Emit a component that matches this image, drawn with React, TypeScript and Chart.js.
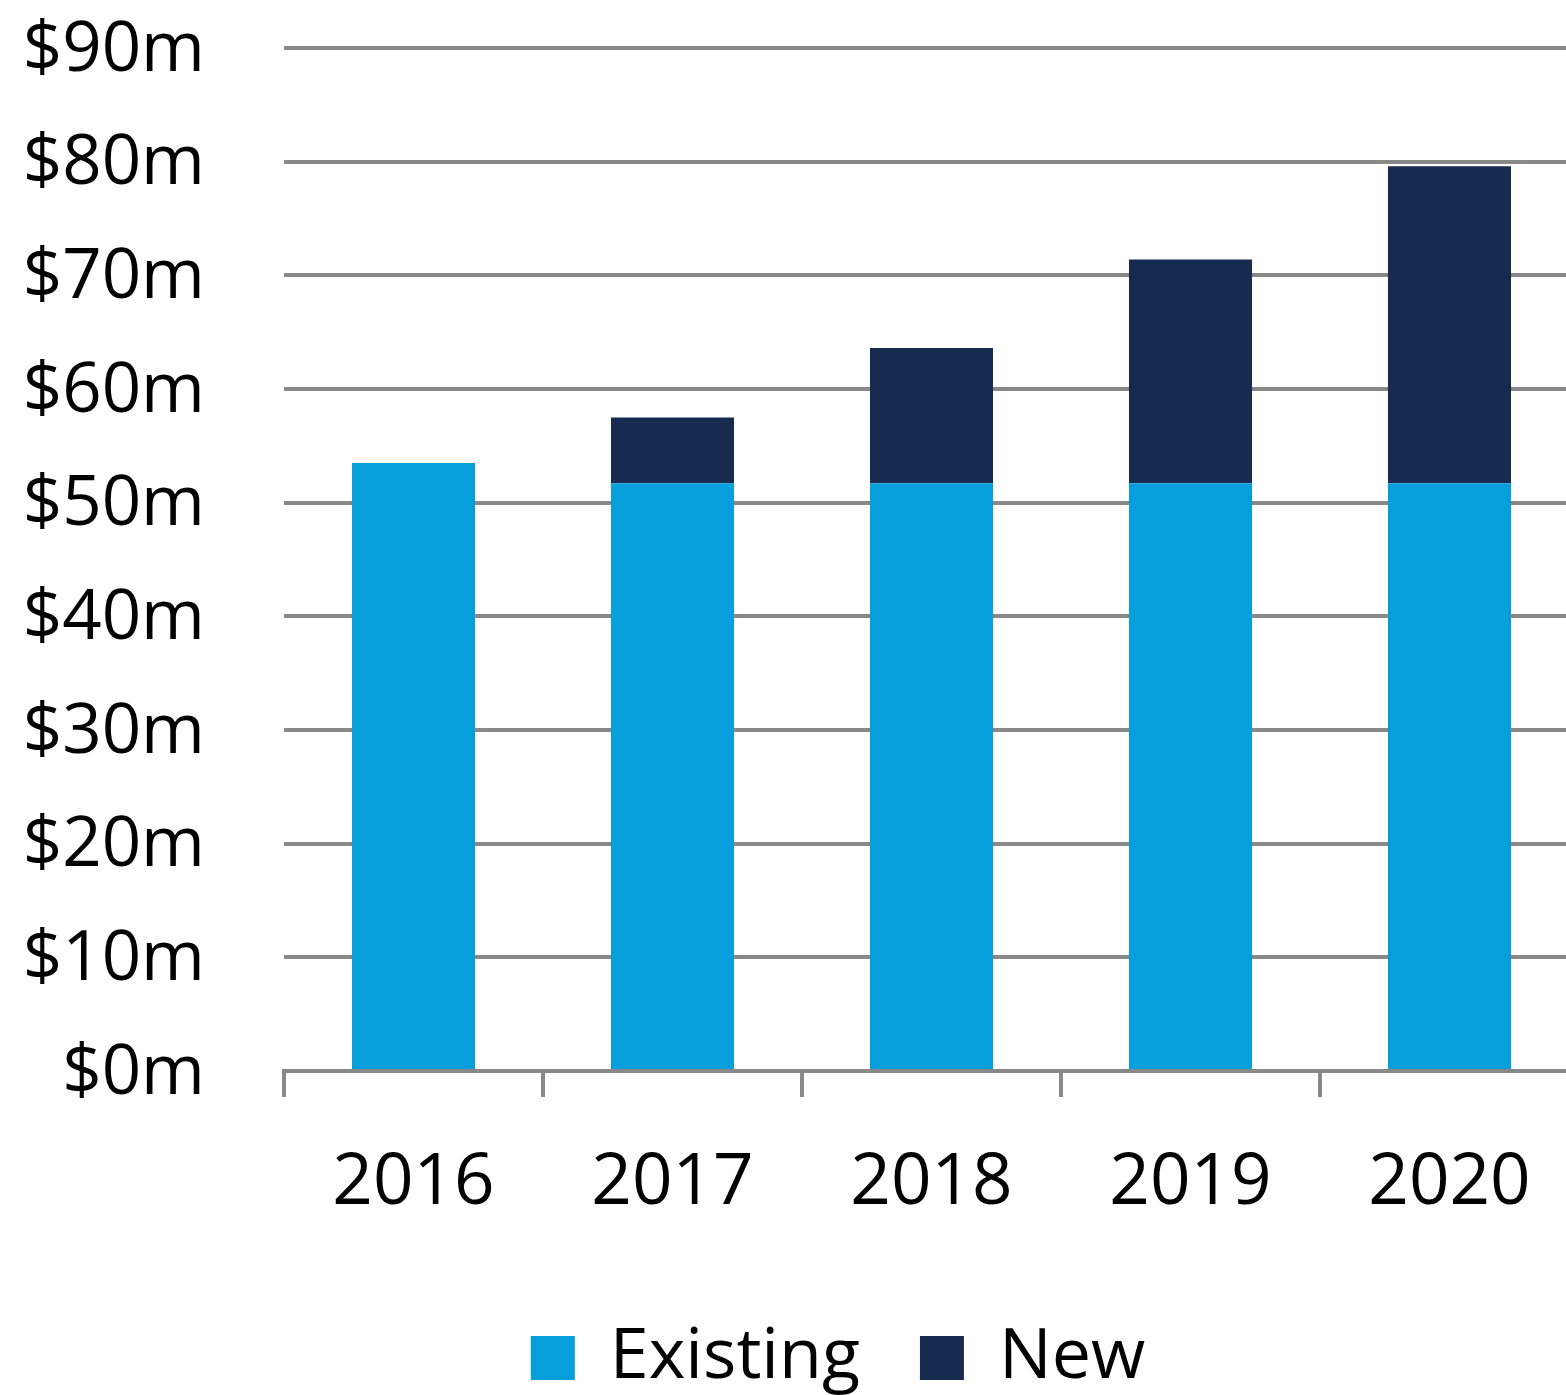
import React, { useEffect, useRef } from "react";
import { Chart, registerables } from "chart.js";

Chart.register(...registerables);

const years = ["2016", "2017", "2018", "2019", "2020"];
const existingValues = [53.5, 51.7, 51.7, 51.7, 51.7];
const newValues = [0, 5.8, 11.9, 19.7, 27.9];
const seriesNames = ["Existing", "New"];
const yMin = 0;
const yMax = 90;
const yStep = 10;

const FONT = "'Open Sans', sans-serif";
const GRID = "#898989";

export default function App() {
  const ref = useRef<HTMLCanvasElement | null>(null);

  useEffect(() => {
    if (!ref.current) return;
    const chart = new Chart(ref.current, {
      type: "bar",
      data: {
        labels: years,
        datasets: [
          {
            label: seriesNames[0],
            data: existingValues,
            backgroundColor: "#069fdb",
            barPercentage: 0.475,
            categoryPercentage: 1,
          },
          {
            label: seriesNames[1],
            data: newValues,
            backgroundColor: "#172b51",
            barPercentage: 0.475,
            categoryPercentage: 1,
          },
        ],
      },
      options: {
        responsive: false,
        animation: false,
        layout: { padding: { left: 0, top: 48, right: 0, bottom: 0 } },
        plugins: {
          tooltip: { enabled: false },
          legend: {
            position: "bottom",
            labels: {
              boxWidth: 44,
              boxHeight: 44,
              padding: 60,
              color: "#000",
              font: { family: FONT, size: 70 },
            },
          },
        },
        scales: {
          x: {
            stacked: true,
            offset: true,
            afterFit: (scale: any) => {
              scale.height = 192;
            },
            grid: {
              offset: true,
              drawOnChartArea: false,
              drawTicks: true,
              tickLength: 26,
              color: GRID,
              lineWidth: 4,
            },
            border: { display: true, color: GRID, width: 4 },
            ticks: {
              color: "#000",
              padding: 44,
              font: { family: FONT, size: 71 },
            },
          },
          y: {
            stacked: true,
            min: yMin,
            max: yMax,
            afterFit: (scale: any) => {
              scale.width = 284;
              scale.paddingTop = 40;
              scale.paddingBottom = 40;
            },
            grid: { color: GRID, lineWidth: 4, drawTicks: false },
            border: { display: false },
            ticks: {
              stepSize: yStep,
              padding: 79,
              labelOffset: 3,
              color: "#000",
              font: { family: FONT, size: 69 },
              callback: (v: any) => `$${v}m`,
            },
          },
          yRight: {
            position: "right",
            display: true,
            afterFit: (scale: any) => {
              scale.width = 97;
              scale.paddingTop = 0;
              scale.paddingBottom = 0;
            },
            grid: { display: false, drawOnChartArea: false },
            border: { display: false },
            ticks: { display: false },
          },
        },
      },
    });
    return () => chart.destroy();
  }, []);

  return (
    <div
      style={{
        position: "fixed",
        left: 0,
        top: 0,
        width: 1566,
        height: 1395,
        overflow: "hidden",
        background: "#fff",
      }}
    >
      <canvas ref={ref} width={1676} height={1403} style={{ display: "block" }} />
    </div>
  );
}
